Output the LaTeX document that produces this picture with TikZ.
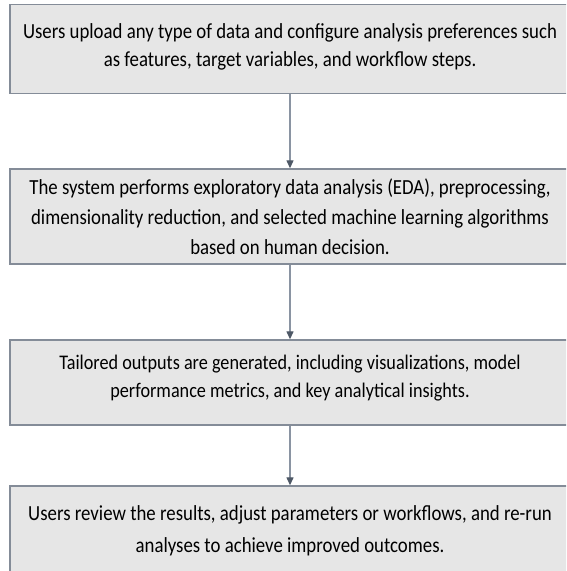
\documentclass[tikz,border=0pt]{standalone}
\usepackage{fontspec}
\setmainfont[FakeStretch=0.875]{Carlito}
\usetikzlibrary{arrows.meta}
\definecolor{boxfill}{HTML}{E6E6E6}
\definecolor{boxedge}{HTML}{848C98}
\definecolor{lineclr}{HTML}{8A94A2}
\definecolor{tipclr}{HTML}{4E5866}
\begin{document}
\begin{tikzpicture}[x=1pt,y=-1pt,
  stepbox/.style={draw=boxedge, fill=boxfill, line width=1.4pt,
    minimum width=560pt, inner sep=0pt},
  steptext/.style={inner sep=0pt, align=center, text=black},
  flow/.style={draw=lineclr, line width=1.3pt,
    -{Triangle[length=8pt,width=7pt,color=tipclr,fill=tipclr]}}]
\useasboundingbox (0,0) rectangle (566,571);
\clip (0,0) rectangle (566,571);
\fill[white] (0,0) rectangle (566,571);

% step boxes (they run past the right and bottom edges)
\node[stepbox, minimum height=88.5pt] (b1) at (290,49) {};
\node[stepbox, minimum height=95pt]   (b2) at (290,216.5) {};
\node[stepbox, minimum height=85pt]   (b3) at (290,382.5) {};
\node[stepbox, minimum height=90pt]   (b4) at (290,531) {};

% step descriptions
\node[steptext, font=\fontsize{21.5}{28}\selectfont] (t1) at (290,47)
  {Users upload any type of data and configure analysis preferences such\\
   as features, target variables, and workflow steps.};
\node[steptext, font=\fontsize{21.5}{30}\selectfont] (t2) at (290,217)
  {The system performs exploratory data analysis (EDA), preprocessing,\\
   dimensionality reduction, and selected machine learning algorithms\\
   based on human decision.};
\node[steptext, font=\fontsize{20.8}{28}\selectfont] (t3) at (290,378)
  {Tailored outputs are generated, including visualizations, model\\
   performance metrics, and key analytical insights.};
\node[steptext, font=\fontsize{21.5}{31.5}\selectfont] (t4) at (290,531)
  {Users review the results, adjust parameters or workflows, and re-run\\
   analyses to achieve improved outcomes.};

\draw[flow] (b1.south) -- (b2.north);
\draw[flow] (b2.south) -- (b3.north);
\draw[flow] (b3.south) -- (b4.north);
\end{tikzpicture}
\end{document}
